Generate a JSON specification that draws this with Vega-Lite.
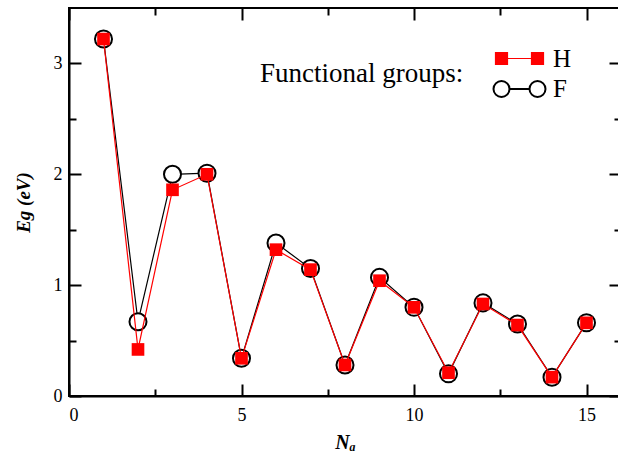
{
  "$schema": "https://vega.github.io/schema/vega-lite/v6.json",
  "width": 552,
  "height": 388,
  "autosize": {"type": "none"},
  "padding": {"left": 69, "top": 8, "right": 0, "bottom": 58},
  "background": "white",
  "config": {
    "font": "Times New Roman, Liberation Serif, DejaVu Serif, serif",
    "view": {"stroke": "black", "strokeWidth": 2},
    "axis": {
      "grid": false,
      "domainColor": "black",
      "domainWidth": 2,
      "tickColor": "black",
      "tickWidth": 2,
      "labelFont": "Times New Roman, Liberation Serif, DejaVu Serif, serif",
      "labelFontSize": 18,
      "labelColor": "black",
      "titleFont": "Times New Roman, Liberation Serif, DejaVu Serif, serif",
      "titleFontSize": 19,
      "titleFontWeight": "bold",
      "titleFontStyle": "italic",
      "titleColor": "black"
    }
  },
  "data": {
    "values": [
      {"n": 1, "g": "F", "e": 3.22}, {"n": 2, "g": "F", "e": 0.67}, {"n": 3, "g": "F", "e": 2.0},
      {"n": 4, "g": "F", "e": 2.01}, {"n": 5, "g": "F", "e": 0.34}, {"n": 6, "g": "F", "e": 1.38},
      {"n": 7, "g": "F", "e": 1.15}, {"n": 8, "g": "F", "e": 0.28}, {"n": 9, "g": "F", "e": 1.07},
      {"n": 10, "g": "F", "e": 0.8}, {"n": 11, "g": "F", "e": 0.2}, {"n": 12, "g": "F", "e": 0.84},
      {"n": 13, "g": "F", "e": 0.65}, {"n": 14, "g": "F", "e": 0.17}, {"n": 15, "g": "F", "e": 0.66},
      {"n": 1, "g": "H", "e": 3.22}, {"n": 2, "g": "H", "e": 0.42}, {"n": 3, "g": "H", "e": 1.86},
      {"n": 4, "g": "H", "e": 2.0}, {"n": 5, "g": "H", "e": 0.34}, {"n": 6, "g": "H", "e": 1.32},
      {"n": 7, "g": "H", "e": 1.14}, {"n": 8, "g": "H", "e": 0.28}, {"n": 9, "g": "H", "e": 1.04},
      {"n": 10, "g": "H", "e": 0.8}, {"n": 11, "g": "H", "e": 0.21}, {"n": 12, "g": "H", "e": 0.83},
      {"n": 13, "g": "H", "e": 0.64}, {"n": 14, "g": "H", "e": 0.17}, {"n": 15, "g": "H", "e": 0.66}
    ]
  },
  "resolve": {"axis": {"x": "independent", "y": "independent"}},
  "layer": [
    {
      "transform": [{"filter": "datum.g === 'F'"}],
      "mark": {"type": "line", "color": "black", "strokeWidth": 1.2},
      "encoding": {
        "x": {"field": "n", "type": "quantitative", "scale": {"domain": [0, 16], "nice": false},
              "axis": {"orient": "bottom", "values": [0, 5, 10, 15], "tickSize": -12, "labelPadding": 22, "title": "Nₐ", "titlePadding": 8, "titleFontSize": 20, "domain": true}},
        "y": {"field": "e", "type": "quantitative", "scale": {"domain": [0, 3.5], "nice": false},
              "axis": {"orient": "left", "values": [0, 1, 2, 3], "tickSize": -12, "labelPadding": 19, "title": "Eg (eV)", "titlePadding": 20, "domain": true}}
      }
    },
    {
      "transform": [{"filter": "datum.g === 'F'"}],
      "mark": {"type": "point", "shape": "circle", "size": 290, "filled": true, "fill": "white", "stroke": "black", "strokeWidth": 2, "opacity": 1},
      "encoding": {
        "x": {"field": "n", "type": "quantitative", "scale": {"domain": [0, 16], "nice": false},
              "axis": {"orient": "bottom", "values": [2.5, 7.5, 12.5], "tickSize": -7, "labels": false, "domain": false, "title": null}},
        "y": {"field": "e", "type": "quantitative", "scale": {"domain": [0, 3.5], "nice": false},
              "axis": {"orient": "left", "values": [0.5, 1.5, 2.5], "tickSize": -7, "labels": false, "domain": false, "title": null}}
      }
    },
    {
      "transform": [{"filter": "datum.g === 'H'"}],
      "mark": {"type": "line", "strokeWidth": 1.2},
      "encoding": {
        "x": {"field": "n", "type": "quantitative", "scale": {"domain": [0, 16], "nice": false},
              "axis": {"orient": "top", "values": [0, 5, 10, 15], "tickSize": -12, "labels": false, "domain": false, "title": null}},
        "y": {"field": "e", "type": "quantitative", "scale": {"domain": [0, 3.5], "nice": false},
              "axis": {"orient": "right", "values": [0, 1, 2, 3], "tickSize": -12, "labels": false, "domain": false, "title": null}},
        "color": {
          "field": "g", "type": "nominal",
          "scale": {"domain": ["H", "F"], "range": ["#ff0000", "#000000"]},
          "legend": {
            "orient": "none",
            "legendX": 191,
            "legendY": 38,
            "padding": 0,
            "title": "Functional groups:",
            "titleOrient": "left",
            "titleAnchor": "middle",
            "titleBaseline": "middle",
            "titleFont": "Times New Roman, Liberation Serif, DejaVu Serif, serif",
            "titleFontSize": 27,
            "titleFontWeight": "normal",
            "titleColor": "black",
            "titlePadding": 25,
            "titleLimit": 400,
            "labelFont": "Times New Roman, Liberation Serif, DejaVu Serif, serif",
            "labelFontSize": 25,
            "labelColor": "black",
            "labelOffset": 39,
            "symbolSize": 4,
            "rowPadding": 4.5,
            "encode": {
              "symbols": {
                "update": {
                  "shape": {"signal": "datum.value === 'H' ? 'M-6,-6H6V6H-6Z M30,-6H42V6H30Z M6,0H30' : 'M-8,0A8,8 0 1,0 8,0A8,8 0 1,0 -8,0Z M28,0A8,8 0 1,0 44,0A8,8 0 1,0 28,0Z M8,0H28'"},
                  "fill": {"signal": "datum.value === 'H' ? '#ff0000' : 'white'"},
                  "stroke": {"signal": "datum.value === 'H' ? '#ff0000' : 'black'"},
                  "strokeWidth": {"signal": "datum.value === 'H' ? 1.2 : 2"},
                  "size": {"value": 4},
                  "opacity": {"value": 1},
                  "fillOpacity": {"value": 1},
                  "strokeOpacity": {"value": 1}
                }
              }
            }
          }
        }
      }
    },
    {
      "transform": [{"filter": "datum.g === 'H'"}],
      "mark": {"type": "point", "shape": "square", "size": 160, "filled": true, "color": "#ff0000", "opacity": 1},
      "encoding": {
        "x": {"field": "n", "type": "quantitative", "scale": {"domain": [0, 16], "nice": false},
              "axis": {"orient": "top", "values": [2.5, 7.5, 12.5], "tickSize": -7, "labels": false, "domain": false, "title": null}},
        "y": {"field": "e", "type": "quantitative", "scale": {"domain": [0, 3.5], "nice": false},
              "axis": {"orient": "right", "values": [0.5, 1.5, 2.5], "tickSize": -7, "labels": false, "domain": false, "title": null}}
      }
    }
  ]
}
